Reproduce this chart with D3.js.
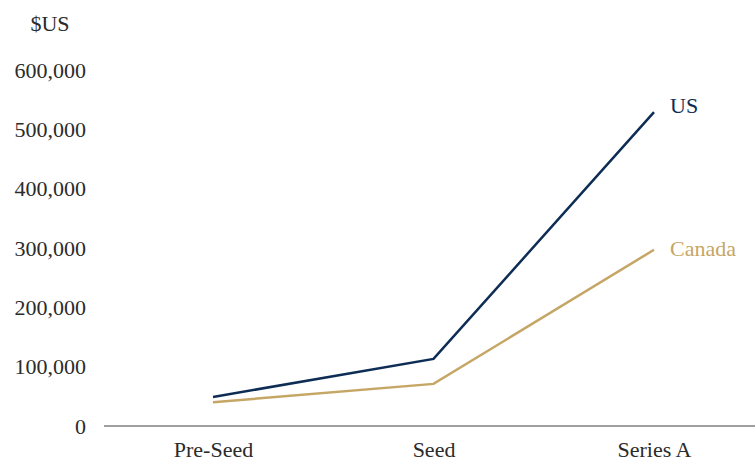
<!DOCTYPE html>
<html>
<head>
<meta charset="utf-8">
<script src="https://cdn.jsdelivr.net/npm/d3@7"></script>
<style>
  html, body { margin: 0; padding: 0; background: #fff; }
  svg { display: block; font-family: "Liberation Serif", "DejaVu Serif", serif; }
</style>
</head>
<body>
<svg id="chart" width="755" height="463"></svg>
<script>
// Average round size by funding stage, in US dollars
const stages = ["Pre-Seed", "Seed", "Series A"];
const usValues = [49000, 113000, 529000];
const canadaValues = [40000, 71000, 297000];
const yTicks = [0, 100000, 200000, 300000, 400000, 500000, 600000];

const series = [
  { name: "US", values: usValues, color: "#0e2d55", labelDy: 1 },
  { name: "Canada", values: canadaValues, color: "#c5a665", labelDy: 6 }
];

const textColor = "#2b2b2b";
const fontSize = 22;

const svg = d3.select("#chart");

const x = d3.scalePoint().domain(stages).range([213, 654]);
const y = d3.scaleLinear().domain([0, 600000]).range([426, 70]);

// Y axis labels (no axis line or ticks)
const yAxis = svg.append("g")
  .attr("transform", "translate(86,0)")
  .call(d3.axisLeft(y).tickValues(yTicks).tickFormat(d3.format(",")).tickSize(0).tickPadding(0));
yAxis.select(".domain").remove();
yAxis.selectAll("text")
  .attr("font-family", "Liberation Serif, serif")
  .attr("font-size", fontSize)
  .attr("fill", textColor);

// Unit label
svg.append("text")
  .attr("x", 50).attr("y", 31)
  .attr("text-anchor", "middle")
  .attr("font-size", fontSize)
  .attr("fill", textColor)
  .text("$US");

// Baseline
svg.append("line")
  .attr("x1", 104).attr("x2", 755)
  .attr("y1", y(0)).attr("y2", y(0))
  .attr("stroke", "#7f7f7f").attr("stroke-width", 1.6);

// X axis labels
const xAxis = svg.append("g")
  .attr("transform", `translate(0,${y(0)})`)
  .call(d3.axisBottom(x).tickSize(0).tickPadding(15));
xAxis.select(".domain").remove();
xAxis.selectAll("text")
  .attr("font-family", "Liberation Serif, serif")
  .attr("font-size", fontSize)
  .attr("fill", textColor);

// Lines
const line = d3.line()
  .x((d, i) => x(stages[i]))
  .y(d => y(d));

svg.selectAll(".series")
  .data(series)
  .join("path")
  .attr("class", "series")
  .attr("d", d => line(d.values))
  .attr("fill", "none")
  .attr("stroke", d => d.color)
  .attr("stroke-width", 2.5);

// End labels
svg.selectAll(".end-label")
  .data(series)
  .join("text")
  .attr("class", "end-label")
  .attr("x", x(stages[2]) + 16)
  .attr("y", d => y(d.values[2]) + d.labelDy)
  .attr("font-size", fontSize)
  .attr("fill", d => d.color)
  .text(d => d.name);
</script>
</body>
</html>
